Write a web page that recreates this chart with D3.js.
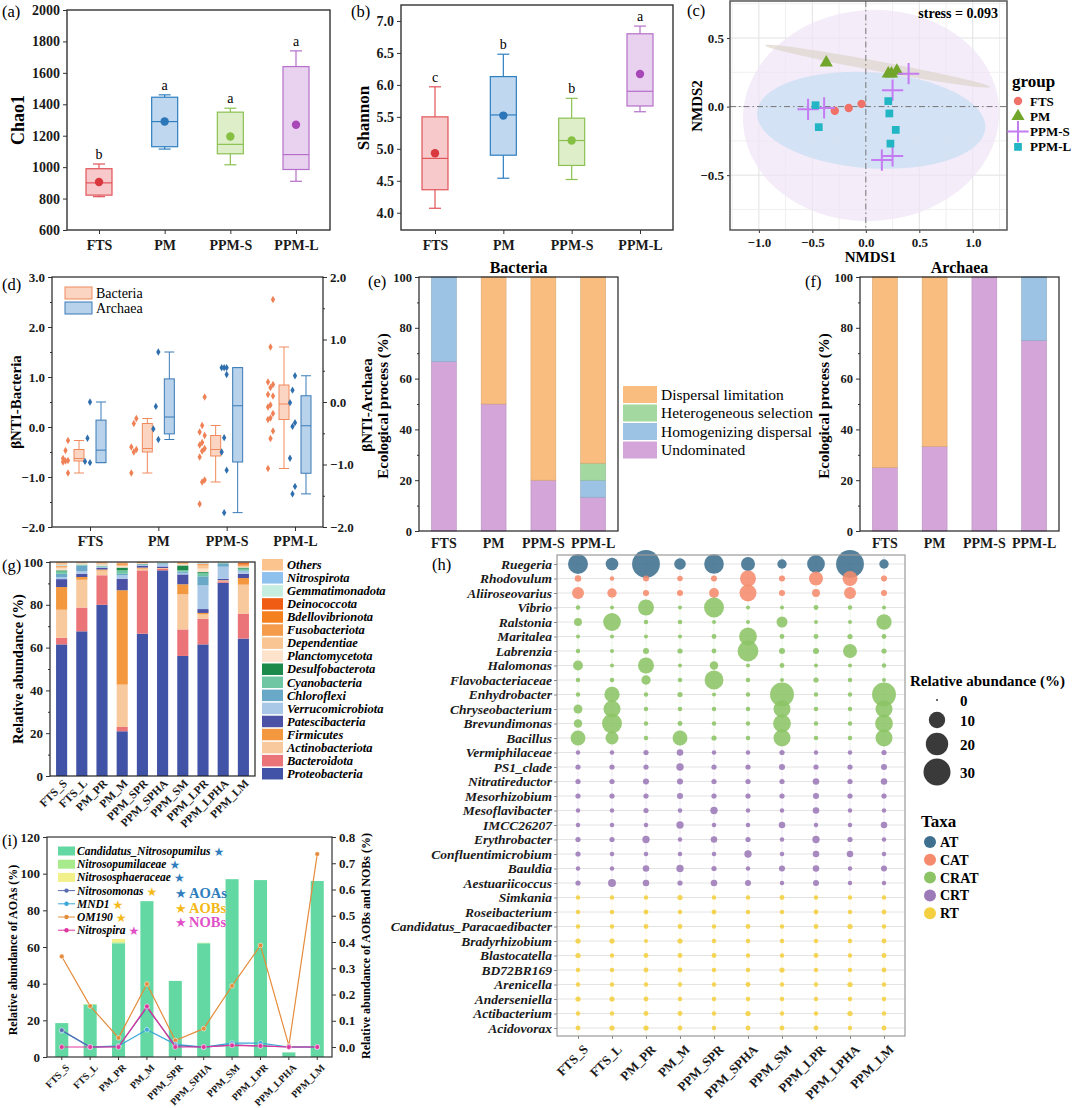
<!DOCTYPE html>
<html>
<head>
<meta charset="utf-8">
<script src="https://cdn.jsdelivr.net/npm/d3@7"></script>
<style>
  body { margin: 0; background: #fff; }
  text { font-family: "Liberation Serif", "Times New Roman", serif; }
</style>
</head>
<body>
<div id="fig"></div>
<script>
// ---------- data ----------
const groups = ["FTS", "PM", "PPM-S", "PPM-L"];

const chao1Box = [
  { min: 812, q1: 822, median: 900, q3: 990, max: 1020, mean: 905 },
  { min: 1115, q1: 1130, median: 1290, q3: 1445, max: 1460, mean: 1290 },
  { min: 1015, q1: 1085, median: 1145, q3: 1350, max: 1375, mean: 1195 },
  { min: 910, q1: 985, median: 1080, q3: 1640, max: 1740, mean: 1270 }
];
const chao1Letters = ["b", "a", "a", "a"];

const shannonBox = [
  { min: 4.07, q1: 4.36, median: 4.85, q3: 5.5, max: 5.97, mean: 4.93 },
  { min: 4.54, q1: 4.9, median: 5.53, q3: 6.13, max: 6.48, mean: 5.52 },
  { min: 4.52, q1: 4.74, median: 5.13, q3: 5.48, max: 5.79, mean: 5.13 },
  { min: 5.58, q1: 5.67, median: 5.9, q3: 6.8, max: 6.92, mean: 6.17 }
];
const shannonLetters = ["c", "b", "b", "a"];

// NMDS sites [NMDS1, NMDS2]
const nmdsFTS = [[-0.29, -0.03], [-0.16, -0.01], [-0.04, 0.02]];
const nmdsPM = [[-0.37, 0.32], [0.21, 0.24], [0.24, 0.24], [0.29, 0.26]];
const nmdsPPMS = [[-0.54, -0.02], [-0.39, -0.01], [0.4, 0.24], [0.25, 0.12], [0.15, -0.39], [0.25, -0.36]];
const nmdsPPML = [[-0.47, 0.01], [-0.44, -0.15], [0.21, 0.04], [0.22, -0.05], [0.28, -0.17], [0.23, -0.27]];
// confidence ellipses (centre, semi-axes, tilt in degrees)
const nmdsEllipses = [
  { group: "PPM-S", cx: 0.05, cy: -0.065, rx: 1.2, ry: 0.77, angle: -4 },
  { group: "PPM-L", cx: 0.05, cy: -0.1, rx: 1.07, ry: 0.35, angle: 4 },
  { group: "PM", cx: 0.11, cy: 0.295, rx: 1.07, ry: 0.036, angle: 10.5 }
];
const stressValue = 0.093;

// betaNTI
const bntiBacBox = [
  { min: -0.92, q1: -0.68, median: -0.63, q3: -0.45, max: -0.27 },
  { min: -0.92, q1: -0.5, median: -0.43, q3: 0.07, max: 0.17 },
  { min: -1.1, q1: -0.58, median: -0.45, q3: -0.17, max: 0.03 },
  { min: -0.83, q1: 0.15, median: 0.46, q3: 0.84, max: 1.6 }
];
const bntiBacPoints = [
  [-0.27, -0.47, -0.63, -0.67, -0.68, -0.7, -0.92],
  [0.17, 0.07, -0.4, -0.45, -0.5, -0.92],
  [0.6, 0.03, -0.1, -0.17, -0.31, -0.36, -0.43, -0.48, -0.6, -1.06, -1.1, -1.54],
  [2.55, 1.6, 0.9, 0.85, 0.79, 0.65, 0.62, 0.44, 0.4, 0.27, 0.18, 0.15, -0.08, -0.23, -0.83]
];
const bntiArcBox = [
  { min: -0.97, q1: -0.97, median: -0.77, q3: -0.29, max: 0.0 },
  { min: -0.6, q1: -0.51, median: -0.24, q3: 0.37, max: 0.8 },
  { min: -1.77, q1: -0.96, median: -0.06, q3: 0.55, max: 0.55 },
  { min: -1.47, q1: -1.14, median: -0.38, q3: 0.1, max: 0.42 }
];
const bntiArcPoints = [
  [0.0, -0.58, -0.95, -0.97],
  [0.8, -0.07, -0.43, -0.6],
  [0.55, 0.55, 0.55, 0.44, -0.57, -0.8, -1.09, -1.77],
  [0.42, 0.19, -0.01, -0.33, -0.39, -0.9, -1.35, -1.47]
];

// ecological processes (%)
const processes = ["Undominated", "Homogenizing dispersal", "Heterogeneous selection", "Dispersal limitation"];
const bacUndominated = [66.7, 50, 20, 13.3];
const bacHomogenizing = [33.3, 0, 0, 6.7];
const bacHeterogeneous = [0, 0, 0, 6.7];
const bacDispersal = [0, 50, 80, 73.3];
const arcUndominated = [25, 33.3, 100, 75];
const arcHomogenizing = [0, 0, 0, 25];
const arcHeterogeneous = [0, 0, 0, 0];
const arcDispersal = [75, 66.7, 0, 0];

// phylum composition, bottom to top
const samples = ["FTS_S", "FTS_L", "PM_PR", "PM_M", "PPM_SPR", "PPM_SPHA", "PPM_SM", "PPM_LPR", "PPM_LPHA", "PPM_LM"];
const phyla = ["Proteobacteria", "Bacteroidota", "Actinobacteriota", "Firmicutes", "Patescibacteria",
  "Verrucomicrobiota", "Chloroflexi", "Cyanobacteria", "Desulfobacterota", "Planctomycetota",
  "Dependentiae", "Fusobacteriota", "Bdellovibrionota", "Deinococcota", "Gemmatimonadota",
  "Nitrospirota", "Others"];
const phylumAbundance = [
  [61.5, 3.1, 13.1, 10.6, 3.7, 1.0, 1.5, 1.1, 0.5, 0.9, 0.7, 0.3, 0.1, 0.1, 0.3, 0.2, 1.3],
  [67.6, 11.1, 13.0, 1.3, 1.5, 1.3, 2.6, 0.3, 0.1, 0.3, 0.2, 0.1, 0.0, 0.0, 0.1, 0.1, 0.4],
  [80.0, 13.8, 2.2, 0.5, 0.7, 0.3, 0.4, 0.3, 0.1, 0.3, 0.2, 0.1, 0.0, 0.0, 0.1, 0.1, 0.9],
  [20.9, 2.0, 19.8, 44.1, 5.4, 1.6, 0.7, 1.6, 1.3, 0.6, 0.4, 0.8, 0.2, 0.1, 0.1, 0.1, 0.3],
  [66.5, 29.6, 0.8, 0.5, 0.9, 0.3, 0.3, 0.1, 0.1, 0.2, 0.2, 0.3, 0.1, 0.1, 0.0, 0.0, 0.0],
  [96.1, 0.8, 0.2, 0.1, 0.7, 1.0, 0.5, 0.1, 0.0, 0.1, 0.1, 0.0, 0.0, 0.0, 0.1, 0.1, 0.1],
  [56.1, 12.4, 16.4, 4.7, 4.6, 0.7, 0.6, 0.6, 2.3, 0.5, 0.3, 0.3, 0.2, 0.1, 0.1, 0.0, 0.1],
  [61.5, 12.0, 2.0, 0.7, 1.8, 11.1, 4.2, 1.6, 0.4, 1.6, 1.5, 0.4, 0.2, 0.1, 0.2, 0.2, 0.5],
  [90.3, 0.7, 0.3, 0.2, 0.7, 5.6, 1.5, 0.2, 0.1, 0.1, 0.1, 0.0, 0.0, 0.0, 0.1, 0.1, 0.0],
  [64.2, 11.7, 13.5, 3.1, 2.0, 1.1, 0.5, 0.8, 0.5, 0.3, 0.4, 0.3, 0.5, 0.6, 0.1, 0.1, 0.3]
];

// genus bubble chart (relative abundance %)
const genera = ["Ruegeria", "Rhodovulum", "Aliiroseovarius", "Vibrio", "Ralstonia", "Maritalea", "Labrenzia",
  "Halomonas", "Flavobacteriaceae", "Enhydrobacter", "Chryseobacterium", "Brevundimonas", "Bacillus",
  "Vermiphilaceae", "PS1_clade", "Nitratireductor", "Mesorhizobium", "Mesoflavibacter", "IMCC26207",
  "Erythrobacter", "Confluentimicrobium", "Bauldia", "Aestuariicoccus", "Simkania", "Roseibacterium",
  "Candidatus_Paracaedibacter", "Bradyrhizobium", "Blastocatella", "BD72BR169", "Arenicella",
  "Anderseniella", "Actibacterium", "Acidovorax"];
const generaTaxa = ["AT", "CAT", "CAT", "CRAT", "CRAT", "CRAT", "CRAT", "CRAT", "CRAT", "CRAT", "CRAT", "CRAT", "CRAT",
  "CRT", "CRT", "CRT", "CRT", "CRT", "CRT", "CRT", "CRT", "CRT", "CRT",
  "RT", "RT", "RT", "RT", "RT", "RT", "RT", "RT", "RT", "RT"];
const genusAbundance = [
  [15.5, 5.4, 32, 4.4, 15, 6.9, 2.6, 12, 32, 2.6],
  [1.0, 0.3, 0.8, 0.6, 0.8, 9.4, 0.8, 6.9, 8, 0.8],
  [4.8, 2.6, 0.8, 0.8, 3, 10.8, 0.8, 1.7, 4.8, 0.8],
  [0.3, 0.2, 9.4, 0.2, 15.5, 0.2, 0.2, 0.4, 0.3, 0.2],
  [1.7, 12, 0.3, 0.3, 0.2, 0.2, 3.9, 0.2, 0.2, 8.5],
  [0.2, 0.2, 0.2, 0.2, 0.4, 12, 0.4, 0.4, 0.5, 0.4],
  [0.3, 0.2, 0.8, 0.5, 0.4, 17, 0.8, 0.8, 6.9, 0.5],
  [3, 0.2, 9.4, 0.2, 2, 0.2, 0.4, 0.2, 0.2, 0.3],
  [0.3, 0.3, 2.6, 0.3, 13.7, 0.3, 0.2, 0.5, 0.3, 0.2],
  [0.3, 8.5, 0.3, 0.5, 0.2, 0.3, 23, 0.3, 0.3, 23],
  [2.3, 10.8, 0.3, 0.3, 0.3, 0.3, 10.8, 0.3, 0.3, 10.8],
  [2, 15.5, 0.3, 0.4, 0.3, 0.3, 12, 0.3, 0.3, 12],
  [8, 5.8, 0.3, 8, 0.5, 0.3, 10.8, 0.3, 0.3, 10.8],
  [0.3, 0.3, 0.5, 1.0, 0.3, 0.3, 0.5, 0.3, 0.3, 0.5],
  [0.5, 0.5, 0.5, 1.4, 0.5, 0.5, 0.8, 0.5, 0.5, 0.8],
  [0.5, 0.5, 0.8, 0.8, 0.5, 0.5, 0.5, 1.0, 0.5, 1.0],
  [0.5, 0.5, 0.5, 0.8, 0.5, 0.5, 0.5, 0.8, 0.5, 0.5],
  [0.3, 0.3, 0.5, 0.3, 1.4, 0.3, 0.3, 1.0, 0.3, 0.3],
  [0.3, 0.3, 0.3, 1.4, 0.3, 0.3, 1.0, 0.3, 0.3, 1.0],
  [0.5, 0.5, 1.4, 0.3, 1.0, 0.5, 0.3, 1.4, 0.5, 0.3],
  [0.5, 0.3, 0.3, 0.3, 0.3, 1.4, 0.3, 1.0, 1.0, 0.3],
  [0.3, 0.3, 1.0, 1.4, 0.5, 0.3, 0.8, 1.0, 0.3, 0.8],
  [0.5, 1.7, 1.0, 0.5, 1.0, 0.8, 0.3, 0.8, 0.3, 0.3],
  [0.3, 0.3, 0.3, 0.5, 0.3, 0.3, 0.4, 0.3, 0.3, 0.3],
  [0.3, 0.3, 0.4, 0.3, 0.4, 0.3, 0.3, 0.4, 0.3, 0.4],
  [0.3, 0.3, 0.4, 0.4, 0.3, 0.4, 0.3, 0.4, 0.5, 0.3],
  [0.5, 0.5, 0.2, 0.5, 0.3, 0.3, 0.3, 0.3, 0.3, 0.4],
  [0.5, 0.3, 0.4, 0.4, 0.4, 0.3, 0.3, 0.4, 0.3, 0.4],
  [0.3, 0.3, 0.4, 0.4, 0.3, 0.3, 0.5, 0.3, 0.3, 0.4],
  [0.3, 0.3, 0.3, 0.3, 0.3, 0.4, 0.3, 0.3, 0.5, 0.3],
  [0.5, 0.5, 0.4, 0.3, 0.3, 0.3, 0.3, 0.3, 0.3, 0.3],
  [0.3, 0.3, 0.4, 0.4, 0.3, 0.5, 0.3, 0.3, 0.5, 0.3],
  [0.4, 0.5, 0.5, 0.4, 0.3, 0.4, 0.4, 0.4, 0.3, 0.4]
];
const taxaClasses = ["AT", "CAT", "CRAT", "CRT", "RT"];
const sizeLegendValues = [0, 10, 20, 30];

// nitrifiers
const candNitrosopumilus = [18.5, 28.5, 62, 85, 41.5, 62, 97, 96.5, 2.5, 96];
const nitrosopumilaceae = [0, 0.4, 0.6, 0, 0, 0.3, 0, 0, 0, 0];
const nitrososphaeraceae = [0, 0, 1.8, 0, 0, 0, 0, 0, 0, 0];
const nitrosomonas = [0.064, 0.0, 0.002, 0.15, 0.005, 0.0, 0.008, 0.004, 0.0, 0.0];
const mnd1 = [0.062, 0.0, 0.004, 0.066, 0.01, 0.0, 0.015, 0.015, 0.0, 0.0];
const om190 = [0.345, 0.156, 0.035, 0.24, 0.025, 0.07, 0.233, 0.387, 0.005, 0.735];
const nitrospira = [0.0, 0.0, 0.0, 0.155, 0.0, 0.0, 0.006, 0.004, 0.0, 0.0];

// ---------- styles ----------
const groupStroke = ["#e0545a", "#2f7fc0", "#8cc152", "#b56fc9"];
const groupFill = ["#f7c9ca", "#bfd7ef", "#ddeec9", "#e8d2f0"];
const groupDot = ["#d8383e", "#2a76b8", "#86c043", "#a848b8"];
const processColors = { "Undominated": "#d4a5d9", "Homogenizing dispersal": "#9cc3e3",
  "Heterogeneous selection": "#a3d9a0", "Dispersal limitation": "#f9bd7f" };
const phylumColors = ["#4053a6", "#eb7479", "#f9c99e", "#f4983f", "#4b52a5", "#a9c8e8", "#6aa8c8",
  "#6ec6a2", "#1b8a4a", "#fde3cc", "#f9c593", "#f59c4c", "#f5801f", "#f05c14", "#c6eee0", "#8fc1ee", "#fbc38e"];
const taxaColors = { AT: "#3e6f8e", CAT: "#f58b6c", CRAT: "#8cc465", CRT: "#9c7ab7", RT: "#f4cf3f" };
const SERIF = '"Liberation Serif", "Times New Roman", serif';

const svg = d3.select("#fig").append("svg")
  .attr("width", 1080).attr("height", 1108)
  .style("font-family", SERIF);

function styleAxis(ax, size, bold = true) {
  ax.select(".domain").remove();
  ax.selectAll("line").attr("stroke", "#333");
  ax.selectAll("text").attr("font-size", size).attr("font-weight", bold ? "bold" : "normal")
    .attr("fill", "#1a1a1a").style("font-family", SERIF);
}

function frameRect(g, x0, y0, x1, y1, color, w) {
  g.append("rect").attr("x", x0).attr("y", y0).attr("width", x1 - x0).attr("height", y1 - y0)
    .attr("fill", "none").attr("stroke", color).attr("stroke-width", w);
}

function panelLabel(t, x, y) {
  svg.append("text").attr("x", x).attr("y", y).attr("font-size", 16.5).text(t);
}

function yTitle(t, x, y, size) {
  svg.append("text").attr("transform", `translate(${x},${y}) rotate(-90)`)
    .attr("text-anchor", "middle").attr("font-weight", "bold").attr("font-size", size).text(t);
}

// ---------- (a) and (b) box plots ----------
function boxPanel(o) {
  const g = svg.append("g");
  const x = d3.scalePoint().domain(groups).range(o.xr);
  const y = d3.scaleLinear().domain(o.yd).range([o.y1, o.y0]);
  const ax = g.append("g").attr("transform", `translate(${o.x0},0)`)
    .call(d3.axisLeft(y).tickValues(o.ticks).tickFormat(o.fmt).tickSize(4).tickPadding(3));
  styleAxis(ax, 14);
  const bx = g.append("g").attr("transform", `translate(0,${o.y1})`)
    .call(d3.axisBottom(x).tickSize(4).tickPadding(6));
  styleAxis(bx, 14);
  frameRect(g, o.x0, o.y0, o.x1, o.y1, "#333", 1.4);
  const bw = 26;
  o.stats.forEach((s, i) => {
    const cx = x(groups[i]);
    const c = groupStroke[i];
    g.append("line").attr("x1", cx).attr("x2", cx).attr("y1", y(s.min)).attr("y2", y(s.max))
      .attr("stroke", c).attr("stroke-width", 1.2);
    [s.min, s.max].forEach(v => g.append("line").attr("x1", cx - 6).attr("x2", cx + 6)
      .attr("y1", y(v)).attr("y2", y(v)).attr("stroke", c).attr("stroke-width", 1.2));
    g.append("rect").attr("x", cx - bw / 2).attr("y", y(s.q3)).attr("width", bw)
      .attr("height", y(s.q1) - y(s.q3)).attr("fill", groupFill[i]).attr("stroke", c).attr("stroke-width", 1.2);
    g.append("line").attr("x1", cx - bw / 2).attr("x2", cx + bw / 2).attr("y1", y(s.median)).attr("y2", y(s.median))
      .attr("stroke", c).attr("stroke-width", 1.2);
    g.append("circle").attr("cx", cx).attr("cy", y(s.mean)).attr("r", 4.2).attr("fill", groupDot[i]);
    g.append("text").attr("x", cx).attr("y", y(s.max) - 5).attr("text-anchor", "middle")
      .attr("font-size", 14).text(o.letters[i]);
  });
}

boxPanel({ x0: 67, x1: 330, y0: 10, y1: 230, xr: [99, 296], yd: [600, 2000],
  ticks: d3.range(600, 2001, 200), fmt: d3.format("d"), stats: chao1Box, letters: chao1Letters });
yTitle("Chao1", 24, 120, 18);
panelLabel("(a)", 2, 17);

boxPanel({ x0: 401, x1: 673, y0: 5, y1: 230, xr: [435, 640], yd: [3.73, 7.25],
  ticks: d3.range(4, 7.01, 0.5), fmt: d3.format(".1f"), stats: shannonBox, letters: shannonLetters });
yTitle("Shannon", 369, 118, 17);
panelLabel("(b)", 351, 17);

// ---------- (c) NMDS ----------
{
  const g = svg.append("g");
  const X0 = 730, X1 = 1007, Y0 = 1, Y1 = 230;
  const x = d3.scaleLinear().domain([-1.27, 1.32]).range([X0, X1]);
  const y = d3.scaleLinear().domain([-0.9, 0.77]).range([Y1, Y0]);
  svg.append("clipPath").attr("id", "clipc").append("rect")
    .attr("x", X0).attr("y", Y0).attr("width", X1 - X0).attr("height", Y1 - Y0);
  const inner = g.append("g").attr("clip-path", "url(#clipc)");
  d3.range(-5, 6).forEach(k => {
    const v = k * 0.25;
    inner.append("line").attr("x1", x(v)).attr("x2", x(v)).attr("y1", Y0).attr("y2", Y1)
      .attr("stroke", k % 2 === 0 ? "#e2e2e2" : "#efefef").attr("stroke-width", 1);
  });
  d3.range(-3, 4).forEach(k => {
    const v = k * 0.25;
    inner.append("line").attr("x1", X0).attr("x2", X1).attr("y1", y(v)).attr("y2", y(v))
      .attr("stroke", k % 2 === 0 ? "#e2e2e2" : "#efefef").attr("stroke-width", 1);
  });
  const ellFill = { "PPM-S": "#efe4f7", "PPM-L": "#c9dff3", "PM": "#ddd6ca" };
  const ellOpacity = { "PPM-S": 0.7, "PPM-L": 0.75, "PM": 0.7 };
  nmdsEllipses.forEach(e => {
    const px = x(e.cx), py = y(e.cy);
    inner.append("ellipse").attr("cx", px).attr("cy", py)
      .attr("rx", x(e.rx) - x(0)).attr("ry", y(0) - y(e.ry))
      .attr("transform", `rotate(${e.angle},${px},${py})`)
      .attr("fill", ellFill[e.group]).attr("opacity", ellOpacity[e.group]);
  });
  inner.append("line").attr("x1", x(0)).attr("x2", x(0)).attr("y1", Y0).attr("y2", Y1)
    .attr("stroke", "#777").attr("stroke-dasharray", "6,3,1.5,3");
  inner.append("line").attr("x1", X0).attr("x2", X1).attr("y1", y(0)).attr("y2", y(0))
    .attr("stroke", "#777").attr("stroke-dasharray", "6,3,1.5,3");

  const sym = {
    FTS: { type: d3.symbolCircle, size: 55, fill: "#f07167", stroke: "none" },
    PM: { type: d3.symbolTriangle, size: 75, fill: "#72a52b", stroke: "none" },
    "PPM-S": { type: d3.symbolPlus, size: 150, fill: "none", stroke: "#c47cf2" },
    "PPM-L": { type: d3.symbolSquare, size: 60, fill: "#22b6c4", stroke: "none" }
  };
  const sets = [["FTS", nmdsFTS], ["PM", nmdsPM], ["PPM-S", nmdsPPMS], ["PPM-L", nmdsPPML]];
  sets.forEach(([name, pts]) => {
    const s = sym[name];
    inner.selectAll(null).data(pts).enter().append("path")
      .attr("d", d3.symbol(s.type, s.size))
      .attr("transform", d => `translate(${x(d[0])},${y(d[1])})`)
      .attr("fill", s.fill).attr("stroke", s.stroke).attr("stroke-width", 2);
  });
  const ax = g.append("g").attr("transform", `translate(${X0},0)`)
    .call(d3.axisLeft(y).tickValues([-0.5, 0, 0.5]).tickFormat(d3.format(".1f")).tickSize(3));
  styleAxis(ax, 13);
  const bx = g.append("g").attr("transform", `translate(0,${Y1})`)
    .call(d3.axisBottom(x).tickValues([-1, -0.5, 0, 0.5, 1]).tickFormat(d3.format(".1f")).tickSize(3).tickPadding(5));
  styleAxis(bx, 13);
  frameRect(g, X0, Y0, X1, Y1, "#555", 1.5);
  g.append("text").attr("x", 998).attr("y", 18).attr("text-anchor", "end")
    .attr("font-weight", "bold").attr("font-size", 14).text("stress = " + stressValue);
  g.append("text").attr("x", (X0 + X1) / 2 + 2).attr("y", 262).attr("text-anchor", "middle")
    .attr("font-weight", "bold").attr("font-size", 15).text("NMDS1");
  yTitle("NMDS2", 702, 106, 15);
  // legend
  g.append("text").attr("x", 1012).attr("y", 87).attr("font-weight", "bold").attr("font-size", 17).text("group");
  sets.forEach(([name], i) => {
    const s = sym[name];
    const ly = 101 + i * 15.3;
    g.append("path").attr("d", d3.symbol(s.type, s.size))
      .attr("transform", `translate(1018,${ly})`)
      .attr("fill", s.fill).attr("stroke", s.stroke).attr("stroke-width", 2);
    g.append("text").attr("x", 1030).attr("y", ly + 4.5).attr("font-weight", "bold")
      .attr("font-size", 13).text(name);
  });
  panelLabel("(c)", 687, 16);
}

// ---------- (d) betaNTI ----------
{
  const g = svg.append("g");
  const X0 = 52, X1 = 323, Y0 = 277, Y1 = 527;
  const x = d3.scalePoint().domain(groups).range([90, 295]);
  const yl = d3.scaleLinear().domain([-2, 3]).range([Y1, Y0]);
  const yr = d3.scaleLinear().domain([-2, 2]).range([Y1, Y0]);
  const ax = g.append("g").attr("transform", `translate(${X0},0)`)
    .call(d3.axisLeft(yl).tickValues(d3.range(-2, 3.01, 1)).tickFormat(d3.format(".1f")).tickSize(4));
  styleAxis(ax, 13);
  g.append("g").attr("transform", `translate(${X0},0)`)
    .call(d3.axisLeft(yl).tickValues(d3.range(-1.5, 3, 1)).tickFormat("").tickSize(2))
    .call(a => styleAxis(a, 13));
  const ar = g.append("g").attr("transform", `translate(${X1},0)`)
    .call(d3.axisRight(yr).tickValues(d3.range(-2, 2.01, 1)).tickFormat(d3.format(".1f")).tickSize(4));
  styleAxis(ar, 13);
  g.append("g").attr("transform", `translate(${X1},0)`)
    .call(d3.axisRight(yr).tickValues(d3.range(-1.5, 2, 1)).tickFormat("").tickSize(2))
    .call(a => styleAxis(a, 13));
  const bx = g.append("g").attr("transform", `translate(0,${Y1})`)
    .call(d3.axisBottom(x).tickSize(4).tickPadding(5));
  styleAxis(bx, 14);
  const series = [
    { box: bntiBacBox, pts: bntiBacPoints, y: yl, off: -11, stroke: "#f08a5d", fill: "#fbd4c2", dot: "#ef8156" },
    { box: bntiArcBox, pts: bntiArcPoints, y: yr, off: 11, stroke: "#3b7bb8", fill: "#b7d2ea", dot: "#2f6fae" }
  ];
  series.forEach(sr => {
    sr.box.forEach((s, i) => {
      const cx = x(groups[i]) + sr.off;
      const y = sr.y;
      const bw = 10;
      g.append("line").attr("x1", cx).attr("x2", cx).attr("y1", y(s.min)).attr("y2", y(s.max))
        .attr("stroke", sr.stroke);
      [s.min, s.max].forEach(v => g.append("line").attr("x1", cx - 5).attr("x2", cx + 5)
        .attr("y1", y(v)).attr("y2", y(v)).attr("stroke", sr.stroke));
      g.append("rect").attr("x", cx - bw / 2).attr("y", y(s.q3)).attr("width", bw)
        .attr("height", Math.max(1, y(s.q1) - y(s.q3))).attr("fill", sr.fill).attr("stroke", sr.stroke);
      g.append("line").attr("x1", cx - bw / 2).attr("x2", cx + bw / 2).attr("y1", y(s.median)).attr("y2", y(s.median))
        .attr("stroke", sr.stroke);
      g.selectAll(null).data(sr.pts[i]).enter().append("path")
        .attr("d", d3.symbol(d3.symbolDiamond, 16))
        .attr("transform", (d, k) => `translate(${cx - 11 - (k % 3) * 2.5},${y(d)})`)
        .attr("fill", sr.dot);
    });
  });
  frameRect(g, X0, Y0, X1, Y1, "#222", 1.2);
  // legend
  [["Bacteria", series[0]], ["Archaea", series[1]]].forEach(([t, sr], i) => {
    const ly = 287 + i * 15;
    g.append("rect").attr("x", 65).attr("y", ly).attr("width", 27).attr("height", 12)
      .attr("fill", sr.fill).attr("stroke", sr.stroke);
    g.append("text").attr("x", 96).attr("y", ly + 10.5).attr("font-size", 14).text(t);
  });
  yTitle("\u03b2NTI-Bacteria", 21, 402, 15);
  yTitle("\u03b2NTI-Archaea", 372, 405, 15);
  panelLabel("(d)", 2, 290);
}

// ---------- (e) and (f) ecological processes ----------
function processPanel(o) {
  const g = svg.append("g");
  const x = d3.scaleBand().domain(groups).range([o.x0, o.x1]).paddingInner(0.5).paddingOuter(0.25);
  const y = d3.scaleLinear().domain([0, 100]).range([531, 277]);
  const rows = groups.map((grp, i) => {
    const r = { group: grp };
    processes.forEach((p, k) => { r[p] = o.values[k][i]; });
    return r;
  });
  const stack = d3.stack().keys(processes)(rows);
  stack.forEach(layer => {
    g.selectAll(null).data(layer).enter().append("rect")
      .attr("x", d => x(d.data.group)).attr("width", x.bandwidth())
      .attr("y", d => y(d[1])).attr("height", d => y(d[0]) - y(d[1]))
      .attr("fill", processColors[layer.key])
      .attr("stroke", d => d[1] - d[0] > 0 ? d3.color(processColors[layer.key]).darker(0.4) : "none")
      .attr("stroke-width", 0.6);
  });
  const ax = g.append("g").attr("transform", `translate(${o.x0},0)`)
    .call(d3.axisLeft(y).tickValues(d3.range(0, 101, 20)).tickSize(4));
  styleAxis(ax, 12.5);
  g.append("g").attr("transform", `translate(${o.x0},0)`)
    .call(d3.axisLeft(y).tickValues(d3.range(10, 100, 20)).tickFormat("").tickSize(2))
    .call(a => styleAxis(a, 12));
  const bx = g.append("g").attr("transform", "translate(0,531)")
    .call(d3.axisBottom(x).tickSize(0).tickPadding(7));
  styleAxis(bx, 14);
  frameRect(g, o.x0, 277, o.x1, 531, "#222", 1.2);
  g.append("text").attr("x", (o.x0 + o.x1) / 2).attr("y", 273).attr("text-anchor", "middle")
    .attr("font-weight", "bold").attr("font-size", 16).text(o.title);
  yTitle("Ecological process (%)", o.x0 - 31, 406, 15);
}

processPanel({ x0: 419, x1: 618, title: "Bacteria",
  values: [bacUndominated, bacHomogenizing, bacHeterogeneous, bacDispersal] });
processPanel({ x0: 860, x1: 1059, title: "Archaea",
  values: [arcUndominated, arcHomogenizing, arcHeterogeneous, arcDispersal] });
panelLabel("(e)", 368, 287);
panelLabel("(f)", 805, 287);
{
  const legendOrder = processes.slice().reverse();
  legendOrder.forEach((p, i) => {
    const ly = 386 + i * 18.5;
    svg.append("rect").attr("x", 623).attr("y", ly).attr("width", 34).attr("height", 17)
      .attr("fill", processColors[p]);
    svg.append("text").attr("x", 661).attr("y", ly + 13.5).attr("font-size", 15.5).text(p);
  });
}

// ---------- (g) phylum composition ----------
{
  const g = svg.append("g");
  const X0 = 50, X1 = 255, Y0 = 562, Y1 = 776;
  const x = d3.scaleBand().domain(samples).range([X0, X1]).paddingInner(0.45).paddingOuter(0.3);
  const y = d3.scaleLinear().domain([0, 100]).range([Y1, Y0]);
  const rows = samples.map((s, i) => {
    const r = { sample: s };
    phyla.forEach((p, k) => { r[p] = phylumAbundance[i][k]; });
    return r;
  });
  const stack = d3.stack().keys(phyla)(rows);
  stack.forEach((layer, k) => {
    g.selectAll(null).data(layer).enter().append("rect")
      .attr("x", d => x(d.data.sample)).attr("width", x.bandwidth())
      .attr("y", d => y(Math.min(100, d[1]))).attr("height", d => Math.max(0, y(d[0]) - y(Math.min(100, d[1]))))
      .attr("fill", phylumColors[k]);
  });
  const ax = g.append("g").attr("transform", `translate(${X0},0)`)
    .call(d3.axisLeft(y).tickValues(d3.range(0, 101, 20)).tickSize(4));
  styleAxis(ax, 13);
  g.append("g").attr("transform", `translate(${X0},0)`)
    .call(d3.axisLeft(y).tickValues(d3.range(10, 100, 20)).tickFormat("").tickSize(2))
    .call(a => styleAxis(a, 13));
  const bx = g.append("g").attr("transform", `translate(0,${Y1})`)
    .call(d3.axisBottom(x).tickSize(0));
  styleAxis(bx, 11.5);
  bx.selectAll("text").attr("text-anchor", "end").attr("dy", 0)
    .attr("transform", "translate(4,6) rotate(-45)");
  frameRect(g, X0, Y0, X1, Y1, "#222", 1.2);
  yTitle("Relative abundance (%)", 23, 669, 14.5);
  const legendOrder = phyla.map((p, k) => k).reverse();
  legendOrder.forEach((k, i) => {
    const ly = 559 + i * 13.06;
    g.append("rect").attr("x", 262).attr("y", ly).attr("width", 21).attr("height", 11.5)
      .attr("fill", phylumColors[k]);
    g.append("text").attr("x", 287).attr("y", ly + 10).attr("font-size", 12.5)
      .attr("font-weight", "bold").attr("font-style", "italic").text(phyla[k]);
  });
  panelLabel("(g)", 2, 571);
}

// ---------- (h) genus bubbles ----------
{
  const g = svg.append("g");
  const X0 = 557, X1 = 905, Y0 = 555, Y1 = 1036;
  const x = d3.scalePoint().domain(samples).range([578, 884]);
  const y = d3.scalePoint().domain(genera).range([564, 1028]);
  const r = d3.scaleSqrt().domain([0, 30]).range([1, 13.5]);
  const step = y.step();
  genera.forEach((gn, i) => {
    g.append("line").attr("x1", X0).attr("x2", X1).attr("y1", y(gn)).attr("y2", y(gn))
      .attr("stroke", "#e4e4e4").attr("stroke-width", 1);
    samples.forEach(s => {
      g.append("line").attr("x1", x(s)).attr("x2", x(s))
        .attr("y1", y(gn) - step / 2).attr("y2", y(gn) + step / 2)
        .attr("stroke", taxaColors[generaTaxa[i]]).attr("stroke-opacity", 0.22)
        .attr("stroke-dasharray", "2,1");
    });
  });
  const cells = [];
  genusAbundance.forEach((row, i) => row.forEach((v, j) => cells.push({ i, j, v })));
  g.selectAll(null).data(cells).enter().append("circle")
    .attr("cx", d => x(samples[d.j])).attr("cy", d => y(genera[d.i]))
    .attr("r", d => r(d.v))
    .attr("fill", d => taxaColors[generaTaxa[d.i]]).attr("fill-opacity", 0.88);
  frameRect(g, X0, Y0, X1, Y1, "#9a9a9a", 1.2);
  const ax = g.append("g").attr("transform", `translate(${X0},0)`)
    .call(d3.axisLeft(y).tickSize(3).tickPadding(2));
  styleAxis(ax, 13.5);
  ax.selectAll("line").attr("stroke", "#888");
  ax.selectAll("text").attr("font-style", "italic");
  const bx = g.append("g").attr("transform", `translate(0,${Y1})`)
    .call(d3.axisBottom(x).tickSize(3));
  styleAxis(bx, 13);
  bx.selectAll("line").attr("stroke", "#888");
  bx.selectAll("text").attr("text-anchor", "end").attr("dy", 0)
    .attr("transform", "translate(6,10) rotate(-45)");
  panelLabel("(h)", 432, 570);
  // size legend
  g.append("text").attr("x", 910).attr("y", 686).attr("font-weight", "bold").attr("font-size", 15)
    .text("Relative abundance (%)");
  const sly = [700, 720, 744, 772];
  sizeLegendValues.forEach((v, i) => {
    g.append("circle").attr("cx", 937).attr("cy", sly[i]).attr("r", r(v)).attr("fill", "#3a3a3a");
    g.append("text").attr("x", 960).attr("y", sly[i] + 5.5).attr("font-weight", "bold")
      .attr("font-size", 15).text(v);
  });
  g.append("text").attr("x", 921).attr("y", 827).attr("font-weight", "bold").attr("font-size", 17).text("Taxa");
  taxaClasses.forEach((t, i) => {
    const ly = 842 + i * 17.8;
    g.append("circle").attr("cx", 930).attr("cy", ly).attr("r", 6).attr("fill", taxaColors[t]);
    g.append("text").attr("x", 940).attr("y", ly + 5).attr("font-weight", "bold").attr("font-size", 14).text(t);
  });
}

// ---------- (i) nitrifiers ----------
{
  const g = svg.append("g");
  const X0 = 47, X1 = 332, Y0 = 837, Y1 = 1057;
  const x = d3.scaleBand().domain(samples).range([X0, X1]).paddingInner(0.54).paddingOuter(0.29);
  const yl = d3.scaleLinear().domain([0, 120]).range([Y1, Y0]);
  const yr = d3.scaleLinear().domain([-0.038, 0.8]).range([Y1, Y0]);
  const barKeys = ["Candidatus_Nitrosopumilus", "Nitrosopumilaceae", "Nitrososphaeraceae"];
  const barCols = ["#63d8a2", "#a8eb8c", "#f2f08a"];
  const barVals = [candNitrosopumilus, nitrosopumilaceae, nitrososphaeraceae];
  const rows = samples.map((s, i) => {
    const o = { sample: s };
    barKeys.forEach((k, j) => { o[k] = barVals[j][i]; });
    return o;
  });
  d3.stack().keys(barKeys)(rows).forEach((layer, j) => {
    g.selectAll(null).data(layer).enter().append("rect")
      .attr("x", d => x(d.data.sample)).attr("width", x.bandwidth())
      .attr("y", d => yl(d[1])).attr("height", d => yl(d[0]) - yl(d[1]))
      .attr("fill", barCols[j]);
  });
  const lineKeys = ["Nitrosomonas", "MND1", "OM190", "Nitrospira"];
  const lineCols = ["#5b6db2", "#3aa7d8", "#e58c3c", "#e0359d"];
  const lineVals = [nitrosomonas, mnd1, om190, nitrospira];
  const cxOf = s => x(s) + x.bandwidth() / 2;
  const drawOrder = [2, 1, 0, 3];
  drawOrder.forEach(j => {
    const line = d3.line().x((d, i) => cxOf(samples[i])).y(d => yr(d));
    g.append("path").datum(lineVals[j]).attr("d", line).attr("fill", "none")
      .attr("stroke", lineCols[j]).attr("stroke-width", 1.2);
    g.selectAll(null).data(lineVals[j]).enter().append("circle")
      .attr("cx", (d, i) => cxOf(samples[i])).attr("cy", d => yr(d)).attr("r", 2.4)
      .attr("fill", lineCols[j]).attr("stroke", "#fff").attr("stroke-width", 0.5);
  });
  const ax = g.append("g").attr("transform", `translate(${X0},0)`)
    .call(d3.axisLeft(yl).tickValues(d3.range(0, 121, 20)).tickSize(4));
  styleAxis(ax, 13);
  const ar = g.append("g").attr("transform", `translate(${X1},0)`)
    .call(d3.axisRight(yr).tickValues(d3.range(0, 0.81, 0.1)).tickFormat(d3.format(".1f")).tickSize(4));
  styleAxis(ar, 13);
  const bx = g.append("g").attr("transform", `translate(0,${Y1})`)
    .call(d3.axisBottom(x).tickSize(3));
  styleAxis(bx, 10);
  bx.selectAll("text").attr("text-anchor", "end").attr("dy", 0)
    .attr("transform", "translate(4,7) rotate(-45)");
  frameRect(g, X0, Y0, X1, Y1, "#333", 1.2);
  yTitle("Relative abundance of AOAs (%)", 17, 950, 12);
  svg.append("text").attr("transform", `translate(370,946) rotate(-90)`)
    .attr("text-anchor", "middle").attr("font-weight", "bold").attr("font-size", 12)
    .text("Relative abundance of AOBs and NOBs (%)");
  panelLabel("(i)", 2, 846);
  // legend
  const starCol = { AOAs: "#2f7dbd", AOBs: "#f4b919", NOBs: "#e14fc7" };
  const legendItems = [
    { t: "Candidatus_Nitrosopumilus", kind: "bar", c: barCols[0], s: "AOAs" },
    { t: "Nitrosopumilaceae", kind: "bar", c: barCols[1], s: "AOAs" },
    { t: "Nitrososphaeraceae", kind: "bar", c: barCols[2], s: "AOAs" },
    { t: "Nitrosomonas", kind: "line", c: lineCols[0], s: "AOBs" },
    { t: "MND1", kind: "line", c: lineCols[1], s: "AOBs" },
    { t: "OM190", kind: "line", c: lineCols[2], s: "AOBs" },
    { t: "Nitrospira", kind: "line", c: lineCols[3], s: "NOBs" }
  ];
  legendItems.forEach((it, i) => {
    const ly = 851 + i * 13.2;
    if (it.kind === "bar") {
      g.append("rect").attr("x", 58).attr("y", ly - 4.5).attr("width", 17).attr("height", 9).attr("fill", it.c);
    } else {
      g.append("line").attr("x1", 58).attr("x2", 75).attr("y1", ly).attr("y2", ly).attr("stroke", it.c);
      g.append("circle").attr("cx", 66.5).attr("cy", ly).attr("r", 2.2).attr("fill", it.c);
    }
    const tx = g.append("text").attr("x", 77).attr("y", ly + 4).attr("font-size", 11.5).attr("font-weight", "bold")
      .attr("font-style", "italic").text(it.t);
    const end = 77 + tx.node().getComputedTextLength();
    g.append("text").attr("x", end + 3).attr("y", ly + 5).attr("font-size", 12)
      .style("font-family", "DejaVu Sans").attr("fill", starCol[it.s]).text("\u2605");
  });
  ["AOAs", "AOBs", "NOBs"].forEach((k, i) => {
    const ly = 898 + i * 14.5;
    g.append("text").attr("x", 175).attr("y", ly).attr("font-size", 13)
      .style("font-family", "DejaVu Sans").attr("fill", starCol[k]).text("\u2605");
    g.append("text").attr("x", 189).attr("y", ly).attr("font-size", 14.5).attr("font-weight", "bold")
      .attr("fill", starCol[k]).text(k);
  });
}
</script>
</body>
</html>
